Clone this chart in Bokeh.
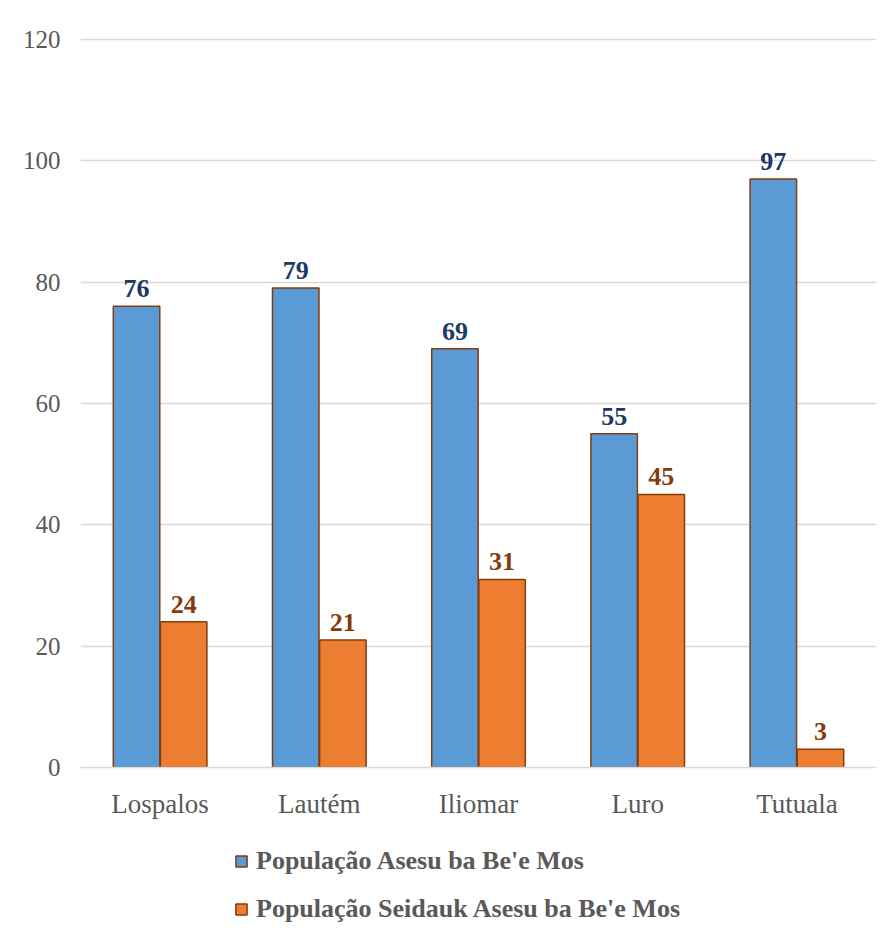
from bokeh.plotting import figure
from bokeh.layouts import column
from bokeh.models import FactorRange, Range1d, ColumnDataSource, Legend, LegendItem, LabelSet, FixedTicker
from bokeh.transform import dodge
from bokeh.core.properties import value
from bokeh.embed import file_html
from bokeh.resources import INLINE

categories = ["Lospalos", "Lautém", "Iliomar", "Luro", "Tutuala"]
asesu = [76, 79, 69, 55, 97]
seidauk = [24, 21, 31, 45, 3]
series_names = ["População Asesu ba Be'e Mos", "População Seidauk Asesu ba Be'e Mos"]
y_ticks = [0, 20, 40, 60, 80, 100, 120]

FONT = "Liberation Serif"
BLUE, ORANGE, EDGE = "#5b9bd5", "#ed7d31", "#843c0c"
src = ColumnDataSource(dict(cat=categories, a=asesu, s=seidauk,
                            a_lbl=[str(v) for v in asesu], s_lbl=[str(v) for v in seidauk]))

p = figure(width=880, height=821, x_range=FactorRange(*categories, range_padding=0),
           y_range=Range1d(0, 120.3), output_backend="svg", toolbar_location=None,
           min_border_left=80, min_border_right=4, min_border_top=37, min_border_bottom=54)
p.outline_line_color = None

off = 0.148
w = 0.292
r1 = p.vbar(x=dodge("cat", -off, range=p.x_range), top="a", width=w, source=src,
            fill_color=BLUE, line_color=EDGE, line_width=1.5)
r2 = p.vbar(x=dodge("cat", off, range=p.x_range), top="s", width=w, source=src,
            fill_color=ORANGE, line_color=EDGE, line_width=1.5)

p.add_layout(LabelSet(x=dodge("cat", -off, range=p.x_range), y="a", text="a_lbl", source=src,
                      text_align="center", text_baseline="bottom", y_offset=9,
                      text_font=value(FONT), text_font_style="bold", text_font_size="26px",
                      text_color="#203864"))
p.add_layout(LabelSet(x=dodge("cat", off, range=p.x_range), y="s", text="s_lbl", source=src,
                      text_align="center", text_baseline="bottom", y_offset=9,
                      text_font=value(FONT), text_font_style="bold", text_font_size="26px",
                      text_color=EDGE))

p.yaxis.ticker = FixedTicker(ticks=y_ticks)
p.yaxis.axis_line_color = None
p.yaxis.major_tick_line_color = None
p.yaxis.minor_tick_line_color = None
p.yaxis.major_label_standoff = 14
p.yaxis.major_label_text_font = FONT
p.yaxis.major_label_text_font_size = "25px"
p.yaxis.major_label_text_color = "#595959"

p.xaxis.axis_line_color = "#d9d9d9"
p.xaxis.axis_line_width = 1.5
p.xaxis.major_tick_line_color = None
p.xaxis.minor_tick_line_color = None
p.xaxis.major_label_standoff = 15
p.xaxis.major_label_text_font = FONT
p.xaxis.major_label_text_font_size = "27px"
p.xaxis.major_label_text_color = "#595959"

p.xgrid.grid_line_color = None
p.ygrid.grid_line_color = "#d9d9d9"
p.ygrid.grid_line_width = 1.5

# legend panel below the chart (hidden swatch renderers only supply legend styles)
q = figure(width=880, height=111, x_range=Range1d(0, 1), y_range=Range1d(0, 1),
           output_backend="svg", toolbar_location=None, min_border=0)
q.axis.visible = False
q.grid.visible = False
q.outline_line_color = None
d1 = q.vbar(x=[0.5], top=[asesu[0]], width=0.1, fill_color=BLUE, line_color=EDGE,
            line_width=1.5, visible=False)
d2 = q.vbar(x=[0.5], top=[seidauk[0]], width=0.1, fill_color=ORANGE, line_color=EDGE,
            line_width=1.5, visible=False)

lg = Legend(items=[LegendItem(label=series_names[0], renderers=[d1]),
                   LegendItem(label=series_names[1], renderers=[d2])],
            orientation="vertical", location=(154, 8))
lg.label_text_font = FONT
lg.label_text_font_style = "bold"
lg.label_text_font_size = "26px"
lg.label_text_color = "#595959"
lg.glyph_width = 14
lg.glyph_height = 14
lg.label_standoff = 8
lg.spacing = 18
lg.padding = 0
lg.margin = 0
lg.border_line_color = None
lg.background_fill_alpha = 0
lg.inactive_fill_alpha = 0
q.add_layout(lg, "center")

layout = column(p, q, spacing=0)
open("out.html", "w").write(file_html(layout, INLINE))
